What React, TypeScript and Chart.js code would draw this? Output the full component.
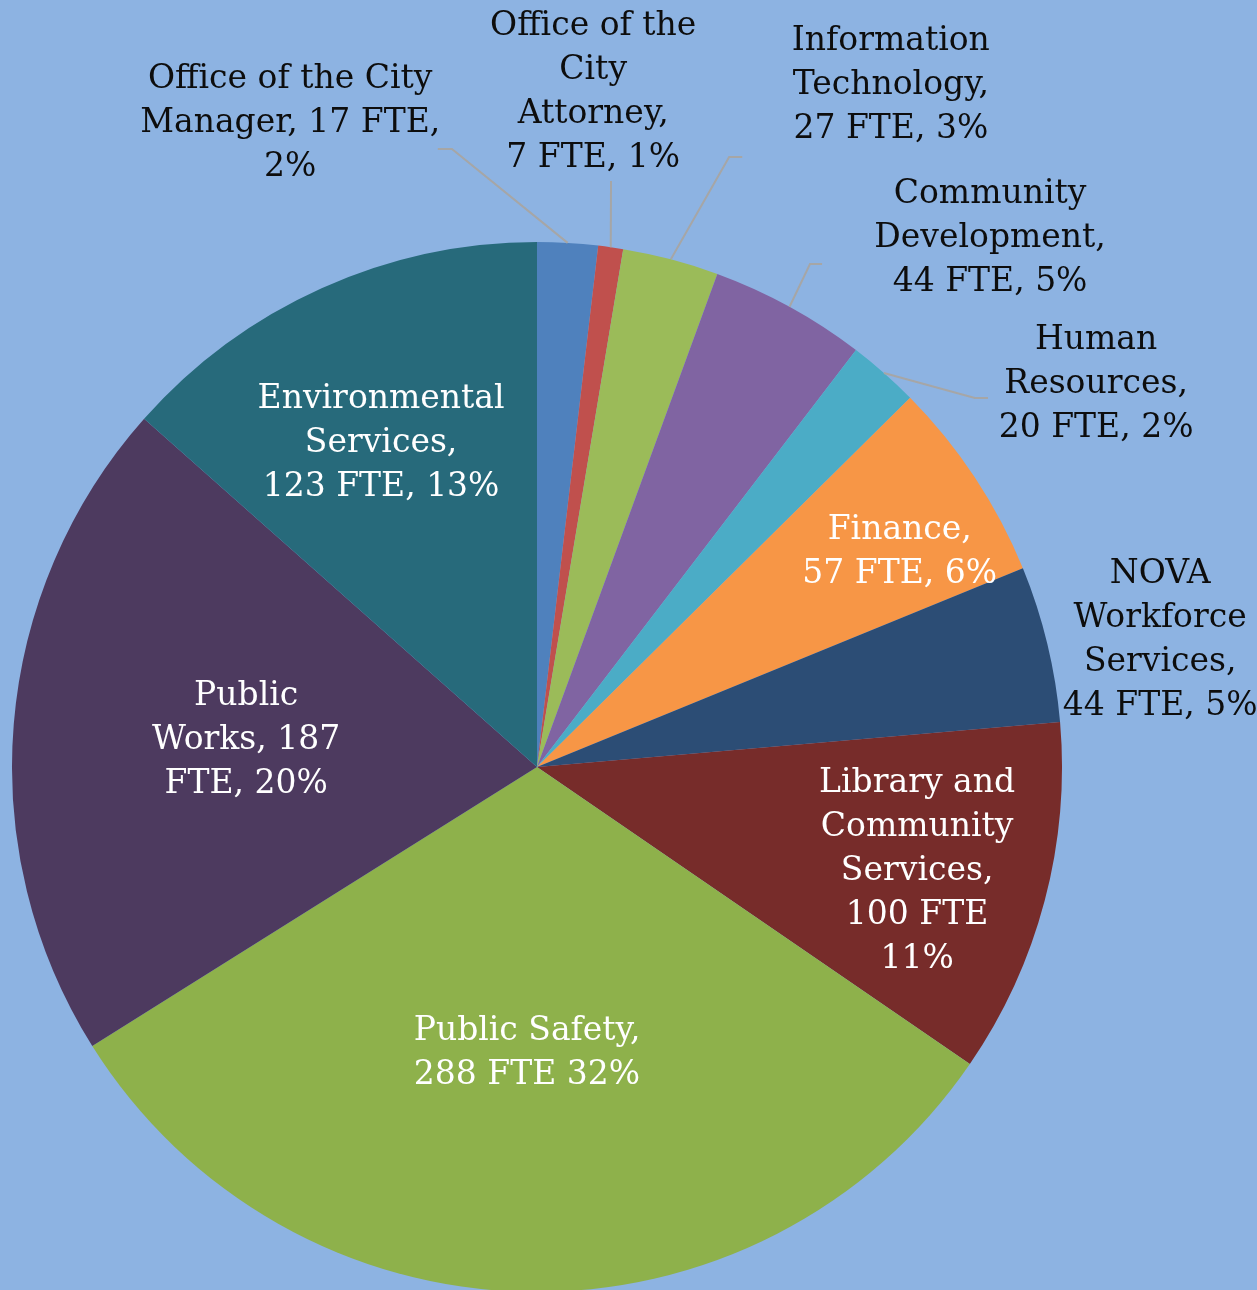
import React, { useEffect, useRef } from "react";
import { Chart, registerables } from "chart.js";

Chart.register(...registerables);

const categories = [
  "Office of the City Manager",
  "Office of the City Attorney",
  "Information Technology",
  "Community Development",
  "Human Resources",
  "Finance",
  "NOVA Workforce Services",
  "Library and Community Services",
  "Public Safety",
  "Public Works",
  "Environmental Services",
];

const fteValues = [17, 7, 27, 44, 20, 57, 44, 100, 288, 187, 123];

const sliceColors = [
  "#4F81BD",
  "#C0504D",
  "#9BBB59",
  "#8064A2",
  "#4BACC6",
  "#F79646",
  "#2C4D75",
  "#772C2A",
  "#8EB14B",
  "#4D3A5F",
  "#276A7B",
];

const labelLines = [
  ["Office of the City", "Manager, 17 FTE,", "2%"],
  ["Office of the", "City", "Attorney,", "7 FTE, 1%"],
  ["Information", "Technology,", "27 FTE, 3%"],
  ["Community", "Development,", "44 FTE, 5%"],
  ["Human", "Resources,", "20 FTE, 2%"],
  ["Finance,", "57 FTE, 6%"],
  ["NOVA", "Workforce", "Services,", "44 FTE, 5%"],
  ["Library and", "Community", "Services,", "100 FTE", "11%"],
  ["Public Safety,", "288 FTE 32%"],
  ["Public", "Works, 187", "FTE, 20%"],
  ["Environmental", "Services,", "123 FTE, 13%"],
];

const insideLabel = [false, false, false, false, false, true, false, true, true, true, true];

// label block centre, as multiples of the pie radius from the pie centre
const labelOffsets: [number, number][] = [
  [-0.47, -1.226],
  [0.107, -1.284],
  [0.674, -1.299],
  [0.863, -1.007],
  [1.065, -0.729],
  [0.691, -0.409],
  [1.187, -0.242],
  [0.724, 0.198],
  [-0.019, 0.545],
  [-0.554, -0.051],
  [-0.297, -0.617],
];

// leader elbows and ends (multiples of radius), null = no leader
const leaderElbows: ([number, number] | null)[] = [
  [-0.162, -1.177],
  [0.141, -1.116],
  [0.366, -1.162],
  [0.520, -0.958],
  [0.834, -0.703],
  null, null, null, null, null, null,
];
const leaderEnds: ([number, number] | null)[] = [
  [-0.189, -1.177],
  [0.141, -1.116],
  [0.391, -1.162],
  [0.543, -0.958],
  [0.859, -0.703],
  null, null, null, null, null, null,
];

const labelPlugin = {
  id: "pieLabels",
  afterDraw(chart: any) {
    const ctx = chart.ctx;
    const meta = chart.getDatasetMeta(0);
    if (!meta.data.length) return;
    const first = meta.data[0];
    const cx = first.x;
    const cy = first.y;
    const r = first.outerRadius;
    ctx.save();
    // leaders
    ctx.strokeStyle = "#A6A6A6";
    ctx.lineWidth = 2;
    meta.data.forEach((arc: any, i: number) => {
      const elbow = leaderElbows[i];
      const end = leaderEnds[i];
      if (!elbow || !end) return;
      const mid = (arc.startAngle + arc.endAngle) / 2;
      const sx = cx + Math.cos(mid) * r;
      const sy = cy + Math.sin(mid) * r;
      ctx.beginPath();
      ctx.moveTo(sx, sy);
      ctx.lineTo(cx + elbow[0] * r, cy + elbow[1] * r);
      ctx.lineTo(cx + end[0] * r, cy + end[1] * r);
      ctx.stroke();
    });
    // labels
    ctx.font = '33px "DejaVu Serif"';
    ctx.textAlign = "center";
    ctx.textBaseline = "middle";
    const lh = 44;
    labelLines.forEach((lines, i) => {
      const [kx, ky] = labelOffsets[i];
      const x = cx + kx * r;
      const y = cy + ky * r;
      ctx.fillStyle = insideLabel[i] ? "#FFFFFF" : "#0D0D0D";
      const top = y - ((lines.length - 1) * lh) / 2;
      lines.forEach((line, j) => {
        ctx.fillText(line, x, top + j * lh);
      });
    });
    ctx.restore();
  },
};

export default function App() {
  const canvasRef = useRef<HTMLCanvasElement | null>(null);
  useEffect(() => {
    if (!canvasRef.current) return;
    const chart = new Chart(canvasRef.current, {
      type: "pie",
      data: {
        labels: categories,
        datasets: [
          {
            data: fteValues,
            backgroundColor: sliceColors,
            borderWidth: 0,
          },
        ],
      },
      options: {
        responsive: false,
        animation: false,
        layout: { padding: { left: 12, top: 242, right: 195, bottom: 0 } },
        plugins: {
          legend: { display: false },
          tooltip: { enabled: false },
        },
      },
      plugins: [labelPlugin],
    });
    return () => chart.destroy();
  }, []);
  return (
    <div
      style={{
        position: "fixed",
        left: 0,
        top: 0,
        width: 1257,
        height: 1290,
        overflow: "hidden",
        background: "#8DB3E2",
      }}
    >
      <canvas ref={canvasRef} width={1257} height={1292} />
    </div>
  );
}
